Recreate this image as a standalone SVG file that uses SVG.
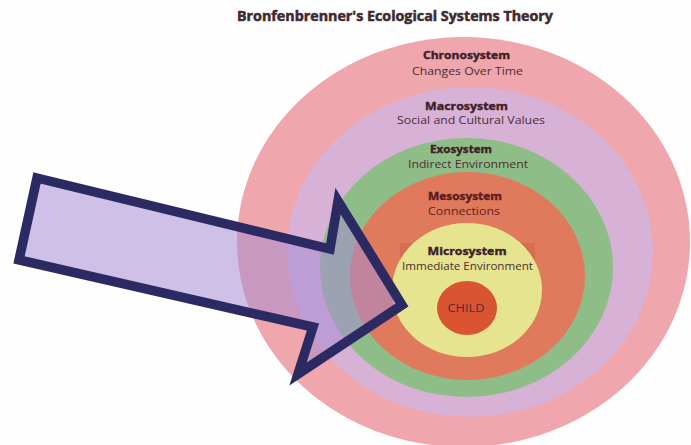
<svg xmlns="http://www.w3.org/2000/svg" width="691" height="445" viewBox="0 0 691 445">
<style>
.t{font-family:"Open Sans","Liberation Sans",sans-serif;text-anchor:middle;fill:#4a2e36}
.b{font-weight:bold;font-size:11px;fill:#3e2028;stroke:#3e2028;stroke-width:0.4}
.s{font-size:11.5px}
</style>
<rect width="691" height="445" fill="#fefefe"/>
<g id="title"><text class="t" x="395" y="21" style="font-weight:bold;font-size:13.5px;fill:#3e2a30;stroke:#3e2a30;stroke-width:0.5" textLength="316" lengthAdjust="spacingAndGlyphs">Bronfenbrenner's Ecological Systems Theory</text></g>
<g id="chronosystem">
<ellipse cx="463.5" cy="242" rx="226.5" ry="205" fill="#efa6ac"/>
<text class="t b" x="466.5" y="59" textLength="87" lengthAdjust="spacingAndGlyphs">Chronosystem</text>
<text class="t s" x="467.5" y="75" textLength="111" lengthAdjust="spacingAndGlyphs">Changes Over Time</text>
</g>
<g id="macrosystem">
<ellipse cx="470" cy="252" rx="183" ry="165" fill="#d7b2d6"/>
<text class="t b" x="466.5" y="110" textLength="83" lengthAdjust="spacingAndGlyphs">Macrosystem</text>
<text class="t s" x="471" y="124" textLength="148" lengthAdjust="spacingAndGlyphs">Social and Cultural Values</text>
</g>
<g id="exosystem">
<ellipse cx="466.5" cy="267.5" rx="146.5" ry="129.5" fill="#8fbd88"/>
<text class="t b" x="461" y="153" textLength="62" lengthAdjust="spacingAndGlyphs">Exosystem</text>
<text class="t s" x="468" y="168" textLength="120" lengthAdjust="spacingAndGlyphs">Indirect Environment</text>
</g>
<g id="mesosystem">
<ellipse cx="467.5" cy="276" rx="117.5" ry="104" fill="#e07a5c"/>
<text class="t b" x="465" y="200" textLength="74" lengthAdjust="spacingAndGlyphs" style="fill:#5a1c20;stroke:#5a1c20">Mesosystem</text>
<text class="t s" x="464" y="215" textLength="72" lengthAdjust="spacingAndGlyphs" style="fill:#5a2224">Connections</text>
</g>
<g id="microsystem">
<rect x="400" y="243" width="135" height="18" fill="#d86c54"/>
<ellipse cx="467" cy="290" rx="75" ry="67" fill="#e6e48e"/>
<text class="t b" x="467" y="255" textLength="79" lengthAdjust="spacingAndGlyphs">Microsystem</text>
<text class="t s" x="467.5" y="270" textLength="131" lengthAdjust="spacingAndGlyphs">Immediate Environment</text>
</g>
<g id="child">
<ellipse cx="467" cy="308" rx="30" ry="27" fill="#d95430"/>
<text class="t" x="466" y="312" style="font-size:10px" textLength="37" lengthAdjust="spacingAndGlyphs">CHILD</text>
</g>
<g id="connectors">
<polygon points="37,178 330,249 338,201 402,305 298,374 313,327 19,260" fill="#a88cd4" fill-opacity="0.55" stroke="#2c2a62" stroke-width="9.5" stroke-linejoin="miter" stroke-miterlimit="10"/>
</g>
</svg>
